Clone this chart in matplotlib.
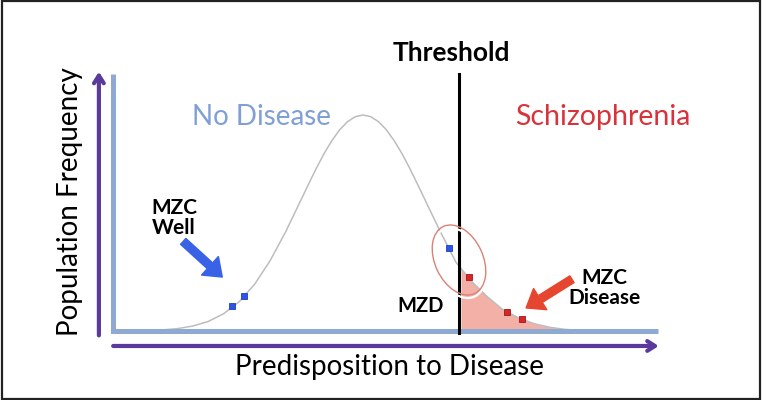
import numpy as np
import matplotlib
matplotlib.use('Agg')
import matplotlib.pyplot as plt
from matplotlib.patches import Ellipse, Rectangle
from matplotlib.transforms import Affine2D

plt.rcParams['font.family'] = ['Lato', 'DejaVu Sans']

# liability curve (x in sd units, height relative to peak)
curve_x = [-3.5, -3.25, -3.0, -2.75, -2.5, -2.25, -2.0, -1.75, -1.5, -1.25,
           -1.0, -0.875, -0.75, -0.625, -0.5, -0.375, -0.25, -0.125, 0.0,
           0.125, 0.25, 0.375, 0.5, 0.625, 0.75, 0.875, 1.0, 1.25, 1.5,
           1.75, 2.0, 2.25, 2.5, 2.75, 3.0, 3.25, 3.5]
curve_y = [0.002, 0.005, 0.011, 0.023, 0.044, 0.080, 0.135, 0.216, 0.325, 0.458,
           0.607, 0.682, 0.755, 0.823, 0.882, 0.932, 0.969, 0.992, 1.0,
           0.992, 0.969, 0.932, 0.882, 0.823, 0.755, 0.682, 0.607, 0.458, 0.318,
           0.23, 0.16, 0.10, 0.062, 0.035, 0.018, 0.008, 0.003]
threshold = 1.55

well_x = [-2.11, -1.92]
well_y = [0.116, 0.162]
mzd_x = [1.39]
mzd_y = [0.384]
dis_x = [1.71, 2.32, 2.56]
dis_y = [0.250, 0.088, 0.056]

c_axis = '#8eaad2'
c_purple = '#5a3a9c'
c_blue_txt = '#7f9fd6'
c_red_txt = '#d8333b'

fig = plt.figure(figsize=(7.62, 4.00), dpi=100)
ax = fig.add_axes([0, 0, 1, 1])
ax.set_xlim(-5.855, 6.435)
ax.set_ylim(-0.319, 1.532)
ax.axis('off')

# frame
fig.patches.append(Rectangle((0.002, 0.003), 0.996, 0.994, transform=fig.transFigure,
                             fill=False, ec='#222222', lw=1.6))

cx = np.array(curve_x); cy = np.array(curve_y)
# shaded tail beyond threshold
m = cx > threshold
fx = np.r_[threshold + 0.03, cx[m]]
fy = np.r_[np.interp(threshold + 0.03, cx, cy), cy[m]]
ax.fill_between(fx, 0, fy, color='#f2b0a6', lw=0, zorder=1)
ax.plot(cx, cy, color='#bdbdbd', lw=1.1, zorder=2)

# axes (light blue) and arrows (purple)
ax.plot([-4.03, -4.03, 4.76], [1.19, 0, 0], color=c_axis, lw=3.6,
        solid_joinstyle='miter', solid_capstyle='butt', zorder=3)
ax.annotate('', xy=(-4.26, 1.20), xytext=(-4.26, -0.02),
            arrowprops=dict(arrowstyle='->,head_length=0.55,head_width=0.35',
                            color=c_purple, lw=3.0, shrinkA=0, shrinkB=0))
ax.annotate('', xy=(4.77, -0.069), xytext=(-4.03, -0.069),
            arrowprops=dict(arrowstyle='->,head_length=0.55,head_width=0.35',
                            color=c_purple, lw=3.0, shrinkA=0, shrinkB=0))

# threshold
ax.plot([threshold, threshold], [-0.01, 1.19], color='black', lw=2.2, zorder=4)

# circle round the MZD pair (white shadow + red outline)
for off, col, lw in [(-3, 'white', 1.6), (0, '#d98275', 1.0)]:
    tr = Affine2D().rotate_deg(25).translate(459, 140 + off)
    ax.add_patch(Ellipse((0, 0), 48, 74, transform=tr, fill=False,
                         ec=col, lw=lw, zorder=5))

ax.plot(well_x + mzd_x, well_y + mzd_y, 's', ms=4.5, color='#2c55e8',
        mec='#1d3fc0', mew=0.6, zorder=6)
ax.plot(dis_x, dis_y, 's', ms=4.5, color='#d6262b', mec='#a31515', mew=0.6, zorder=6)

# pointer arrows
ax.annotate('', xy=(-2.27, 0.25), xytext=(-2.90, 0.415),
            arrowprops=dict(arrowstyle='simple,head_length=0.8,head_width=1.2,tail_width=0.38',
                            color='#3a62e6', mutation_scale=15, shrinkA=0, shrinkB=0))
ax.annotate('', xy=(2.63, 0.107), xytext=(3.37, 0.24),
            arrowprops=dict(arrowstyle='simple,head_length=0.8,head_width=1.2,tail_width=0.38',
                            color='#e6462f', mutation_scale=15, shrinkA=0, shrinkB=0))

# labels
ax.text(-1.645, 0.991, 'No Disease', color=c_blue_txt, fontsize=20, ha='center', va='center')
ax.text(3.87, 0.991, 'Schizophrenia', color=c_red_txt, fontsize=20.5, ha='center', va='center')
ax.text(1.42, 1.287, 'Threshold', fontsize=19, fontweight='bold', ha='center', va='center')
ax.text(-3.05, 0.523, 'MZC\nWell', fontsize=15, fontweight='bold', ha='center', va='center',
        linespacing=1.05)
ax.text(0.935, 0.116, 'MZD', fontsize=14.5, fontweight='bold', ha='center', va='center')
ax.text(3.89, 0.199, 'MZC\nDisease', fontsize=15, fontweight='bold', ha='center', va='center',
        linespacing=1.05)
ax.text(0.435, -0.167, 'Predisposition to Disease', fontsize=20, ha='center', va='center')
ax.text(-4.73, 0.60, 'Population Frequency', fontsize=20, rotation=90,
        ha='center', va='center')

fig.savefig('out.png', dpi=100)
